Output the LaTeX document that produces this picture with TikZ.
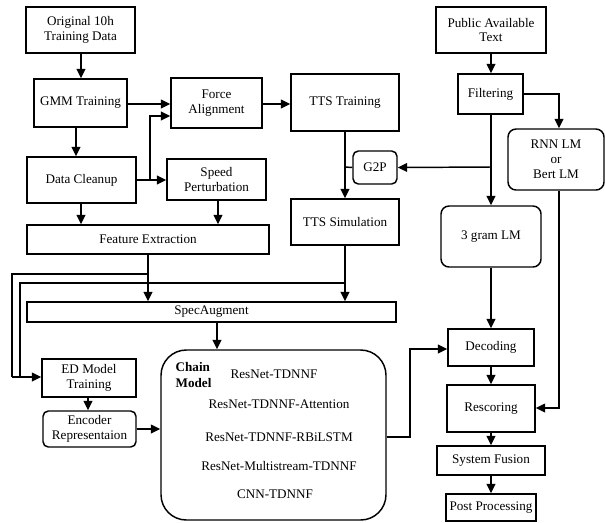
\documentclass[tikz,border=0pt]{standalone}
\usepackage{fontspec}
\setmainfont{Liberation Serif}
\usetikzlibrary{arrows.meta}
\begin{document}
\begin{tikzpicture}[x=0.75pt,y=-0.75pt,
  every node/.style={font=\fontsize{9.85}{11.2}\selectfont},
  box/.style={draw, line width=1.1pt, inner sep=0pt, align=center},
  rbox/.style={box, rounded corners=6pt},
  tbox/.style={box, line width=2.2pt},
  ln/.style={line width=1.1pt},
  arr/.style={ln, -{Triangle[length=7pt,width=6.5pt]}}]
\useasboundingbox (0,0) rectangle (605,522);
% left column
\node[tbox, minimum width=81.75pt, minimum height=34.5pt] (orig) at (80.5,30) {Original 10h\\Training Data};
\node[box, minimum width=69.75pt, minimum height=36pt] (gmm) at (80.5,103) {GMM Training};
\node[box, minimum width=68.25pt, minimum height=37.5pt] (force) at (216.5,103) {Force\\Alignment};
\node[box, minimum width=81.75pt, minimum height=34.5pt] (clean) at (81.5,180) {Data Cleanup};
\node[box, minimum width=74.25pt, minimum height=30.75pt] (speed) at (216.5,179.5) {Speed\\Perturbation};
\node[box, minimum width=181.5pt, minimum height=21.75pt] (feat) at (148,239.5) {Feature Extraction};
\node[box, minimum width=81pt, minimum height=42.75pt] (tts) at (345,102.5) {TTS Training};
\node[tbox, minimum width=82.5pt, minimum height=34.5pt] (pub) at (491,30) {Public Available\\Text};
\node[box, minimum width=48.75pt, minimum height=30pt] (filt) at (490.5,94) {Filtering};
\node[rbox, minimum width=72pt, minimum height=45.75pt] (rnn) at (556,159.5) {RNN LM\\or\\Bert LM};
\node[rbox, rounded corners=4pt, minimum width=33pt, minimum height=24.75pt] (g2p) at (375,167.5) {G2P};
\node[box, minimum width=81pt, minimum height=34.5pt] (ttssim) at (345,222) {TTS Simulation};
\node[rbox, minimum width=75pt, minimum height=45.75pt] (gram) at (491,236.5) {3 gram LM};
\node[box, minimum width=276.75pt, minimum height=15pt] (spec) at (211.5,312) {SpecAugment};
\node[box, minimum width=70.5pt, minimum height=28.5pt] (ed) at (89,378) {ED Model\\Training};
\node[rbox, rounded corners=4pt, minimum width=69.75pt, minimum height=27pt] (enc) at (89.5,429) {Encoder\\Representaion};
\node[box, rounded corners=19pt, minimum width=168.75pt, minimum height=127.5pt] (chain) at (273.5,435) {};
\node[box, minimum width=64.5pt, minimum height=27.75pt] (dec) at (491,347.5) {Decoding};
\node[box, minimum width=66pt, minimum height=35.25pt] (resc) at (491,408.5) {Rescoring};
\node[box, minimum width=81pt, minimum height=21.75pt] (fus) at (491,460.5) {System Fusion};
\node[box, minimum width=67.5pt, minimum height=20.25pt] (post) at (491,507.5) {Post Processing};
% chain contents
\node[anchor=west, align=left, font=\fontsize{9.85}{11.5}\selectfont\bfseries] (cm) at (171,375) {Chain\\Model};
\node (c1) at (274,374) {ResNet-TDNNF};
\node (c2) at (279,404) {ResNet-TDNNF-Attention};
\node (c3) at (279,437) {ResNet-TDNNF-RBiLSTM};
\node (c4) at (279,466) {ResNet-Multistream-TDNNF};
\node (c5) at (275,494) {CNN-TDNNF};
% helper coordinates
\coordinate (x76) at (76,0);
\coordinate (x81) at (81,0);
\coordinate (x88) at (88,0);
\coordinate (x148) at (148,0);
\coordinate (x217) at (217,0);
\coordinate (x218) at (218,0);
\coordinate (x345) at (345,0);
\coordinate (x491) at (491,0);
\coordinate (x559) at (559,0);
\coordinate (y104) at (0,104);
\coordinate (y116) at (0,116);
\coordinate (y180) at (0,180);
\coordinate (y349) at (0,349);
\coordinate (y408) at (0,408);
\coordinate (y429) at (0,429);
\coordinate (y437) at (0,437);
\coordinate (br1) at (150,180);
\coordinate (br2) at (491,167);
\coordinate (br3) at (345,167);
\coordinate (br4) at (148,274);
\coordinate (br5) at (345,283);
\coordinate (l1) at (12,274);
\coordinate (l2) at (12,377);
\coordinate (l3) at (20,283);
\coordinate (l4) at (20,377);
\coordinate (r1) at (410,437);
\coordinate (r2) at (410,349);
% edges
\draw[arr] (orig.south -| x81) -- (gmm.north -| x81);
\draw[arr] (gmm.south -| x76) -- (clean.north -| x76);
\draw[arr] (gmm.east |- y104) -- (force.west |- y104);
\draw[arr] (clean.east |- y180) -- (speed.west |- y180);
\draw[arr] (br1) |- (force.west |- y116);
\draw[arr] (clean.south -| x81) -- (feat.north -| x81);
\draw[arr] (speed.south -| x218) -- (feat.north -| x218);
\draw[arr] (force.east |- y104) -- (tts.west |- y104);
\draw[arr] (pub.south -| x491) -- (filt.north -| x491);
\draw[arr] (filt.east) -| (rnn.north -| x559);
\draw[arr] (filt.south -| x491) -- (gram.north -| x491);
\draw[arr] (br2) -- (g2p.east);
\draw[ln] (g2p.west) -- (br3);
\draw[arr] (tts.south -| x345) -- (ttssim.north -| x345);
\draw[arr] (feat.south -| x148) -- (spec.north -| x148);
\draw[arr] (ttssim.south -| x345) -- (spec.north -| x345);
\draw[ln] (br4) -- (l1) -- (l2);
\draw[ln] (br5) -- (l3) -- (l4);
\draw[arr] (l2) -- (ed.west |- l2);
\draw[arr] (spec.south -| x217) -- (chain.north -| x217);
\draw[arr] (ed.south -| x88) -- (enc.north -| x88);
\draw[arr] (enc.east |- y429) -- (chain.west |- y429);
\draw[arr] (chain.east |- y437) -- (r1) -- (r2) -- (dec.west |- y349);
\draw[arr] (gram.south -| x491) -- (dec.north -| x491);
\draw[arr] (dec.south -| x491) -- (resc.north -| x491);
\draw[arr] (rnn.south -| x559) |- (resc.east |- y408);
\draw[arr] (resc.south -| x491) -- (fus.north -| x491);
\draw[arr] (fus.south -| x491) -- (post.north -| x491);
\end{tikzpicture}
\end{document}
